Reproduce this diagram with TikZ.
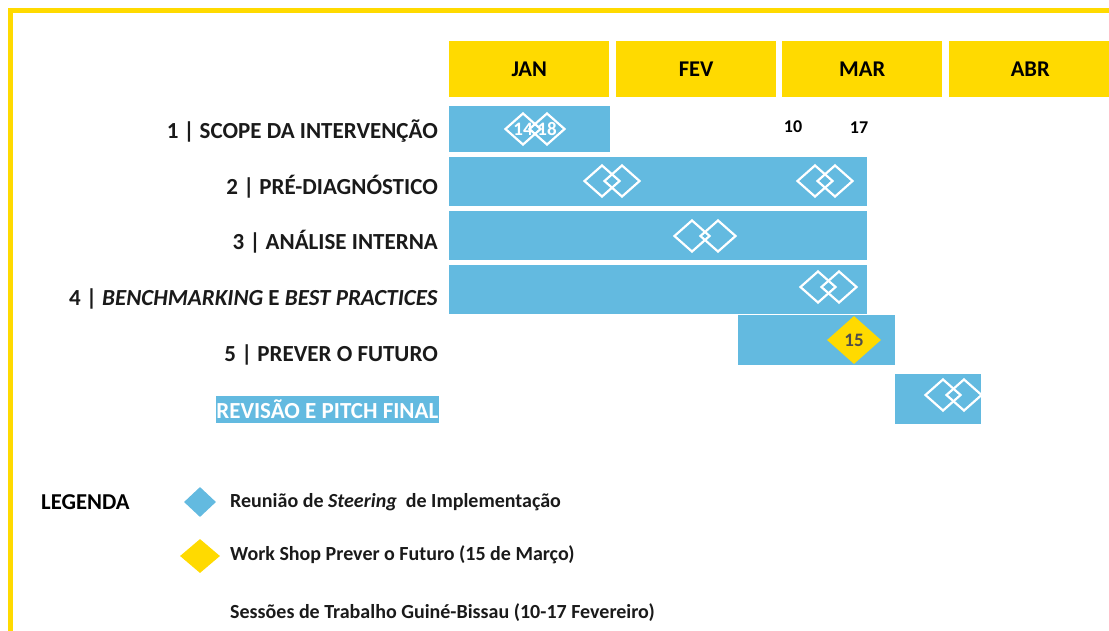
\documentclass[tikz,border=0pt]{standalone}
\usepackage{fontspec}
\setmainfont{Carlito}
\usetikzlibrary{shapes.geometric}
\definecolor{gyel}{RGB}{255,218,0}
\definecolor{gblue}{RGB}{99,186,224}
\definecolor{gtxt}{RGB}{26,26,26}
\definecolor{gnum}{RGB}{77,77,77}
\tikzset{
  month/.style={fill=gyel, inner sep=0pt, minimum width=160pt, minimum height=56pt, anchor=north west, font=\fontsize{22.5}{22.5}\selectfont\bfseries, text=black},
  bar/.style={fill=gblue, inner sep=0pt, anchor=north west},
  rowlabel/.style={anchor=east, inner sep=0pt, font=\fontsize{23}{23}\selectfont\bfseries, text=gtxt},
  milestone/.style={diamond, draw=white, line width=2.2pt, inner sep=0pt, minimum width=36pt, minimum height=32pt},
  daylabel/.style={inner sep=0pt, font=\fontsize{18}{18}\selectfont\bfseries, text=black},
  legtext/.style={anchor=west, inner sep=0pt, font=\fontsize{20}{20}\selectfont\bfseries, text=gtxt},
}
\begin{document}
\begin{tikzpicture}[x=1pt,y=-1pt]
\useasboundingbox (0,0) rectangle (1109,630);
% frame
\draw[gyel, line width=5pt] (10.5,632) -- (10.5,10.5) -- (1111,10.5);
% months
\node[month] (jan) at (449,41) {JAN};
\node[month] (fev) at (616,41) {FEV};
\node[month] (mar) at (782,41) {MAR};
\node[month, minimum width=162pt] (abr) at (949,41) {ABR};
% bars
\node[bar, minimum width=161pt, minimum height=46pt] (b1) at (449,106) {};
\node[bar, minimum width=418pt, minimum height=49pt] (b2) at (449,157) {};
\node[bar, minimum width=418pt, minimum height=49pt] (b3) at (449,211) {};
\node[bar, minimum width=418pt, minimum height=49pt] (b4) at (449,265) {};
\node[bar, minimum width=157pt, minimum height=50pt] (b5) at (738,315) {};
\node[bar, minimum width=86pt, minimum height=50pt] (b6) at (895,374) {};
% row labels
\node[rowlabel] (l1) at (438,131) {1 | SCOPE DA INTERVENÇÃO};
\node[rowlabel] (l2) at (438,187) {2 | PRÉ-DIAGNÓSTICO};
\node[rowlabel] (l3) at (438,242) {3 | ANÁLISE INTERNA};
\node[rowlabel] (l4) at (438,299) {4 | \textit{BENCHMARKING} E \textit{BEST PRACTICES}};
\node[rowlabel] (l5) at (438,355) {5 | PREVER O FUTURO};
\node[fill=gblue, text=white, anchor=east, inner sep=0pt, minimum height=27pt, minimum width=223pt, font=\fontsize{23}{23}\selectfont\bfseries] (l6) at (439,409.5) {REVISÃO E PITCH FINAL};
% day labels
\node[daylabel] (d10) at (793,127) {10};
\node[daylabel] (d17) at (859,128) {17};
% milestones
\node[milestone] (m1a) at (523,129) {};
\node[milestone] (m1b) at (547,129) {};
\node[text=white, inner sep=0pt, font=\fontsize{19}{19}\selectfont\bfseries] (t14) at (523,129.5) {14};
\node[text=white, inner sep=0pt, font=\fontsize{19}{19}\selectfont\bfseries] (t18) at (547,129.5) {18};
\node[milestone] (m2a) at (602,181) {};
\node[milestone] (m2b) at (622,181) {};
\node[milestone] (m2c) at (815,181) {};
\node[milestone] (m2d) at (835,181) {};
\node[milestone] (m3a) at (692,236) {};
\node[milestone] (m3b) at (718,236) {};
\node[milestone] (m4a) at (818,287) {};
\node[milestone] (m4b) at (839,287) {};
\node[diamond, fill=gyel, inner sep=0pt, minimum width=54pt, minimum height=48pt, text=gnum, font=\fontsize{19}{19}\selectfont\bfseries] (m5) at (854,340) {15};
\node[milestone] (m6a) at (943,395) {};
\node[milestone] (m6b) at (964,395) {};
% legend
\node[anchor=west, inner sep=0pt, font=\fontsize{22.7}{22.7}\selectfont\bfseries, text=black] (leg) at (41,502) {LEGENDA};
\node[diamond, fill=gblue, inner sep=0pt, minimum width=32pt, minimum height=30pt] (lk1) at (200,502) {};
\node[diamond, fill=gyel, inner sep=0pt, minimum width=40pt, minimum height=34pt] (lk2) at (200,556) {};
\node[legtext] (lt1) at (230,502) {Reunião de \textit{Steering}~ de Implementação};
\node[legtext] (lt2) at (230,555) {Work Shop Prever o Futuro (15 de Março)};
\node[legtext] (lt3) at (230,613) {Sessões de Trabalho Guiné-Bissau (10-17 Fevereiro)};
\end{tikzpicture}
\end{document}
